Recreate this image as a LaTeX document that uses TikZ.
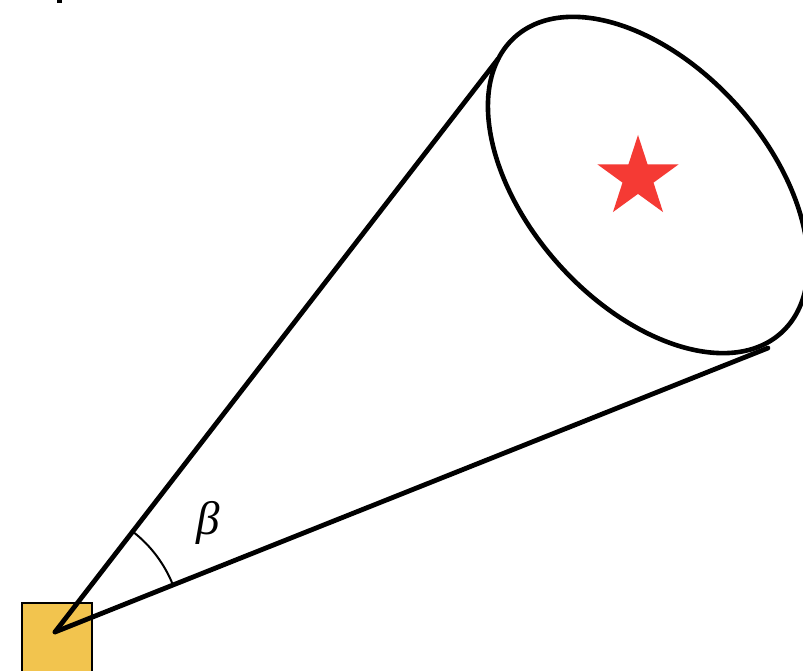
\documentclass[tikz,border=0pt]{standalone}
\usepackage{fontspec}
\newfontfamily\betafont{Liberation Serif}
\usetikzlibrary{calc}
\definecolor{camyellow}{RGB}{242,196,78}
\definecolor{starred}{RGB}{245,58,52}
\tikzset{
  conel/.style={line width=4.8pt, line cap=round, draw=black},
  rimline/.style={line width=4.6pt, draw=black},
  anglearc/.style={line width=2pt, draw=black},
  cambox/.style={draw=black, line width=2pt, fill=camyellow},
  starfill/.style={fill=starred},
}
\begin{document}
\begin{tikzpicture}[x=1pt, y=-1pt]
  \clip (0,0) rectangle (803,671);
  \fill[white] (0,0) rectangle (803,671);
  % tiny cropped mark at top
  \fill[black] (57,0) rectangle (62,3);
  % camera box
  \coordinate (boxtl) at (22,603);
  \coordinate (boxbr) at (92,700);
  \draw[cambox] (boxtl) rectangle (boxbr);
  % apex and tangent points
  \coordinate (apex) at (55,632);
  \coordinate (t1) at (498,59);
  \coordinate (t2) at (768,348);
  \coordinate (c) at (648,185);
  % ellipse
  \draw[rimline, rotate around={-48:(c)}] (c) ellipse [x radius=199, y radius=119.5];
  % cone lines
  \draw[conel] (apex) -- (t1);
  \draw[conel] (apex) -- (t2);
  % angle arc
  \draw[anglearc] (apex) ++(-21.6:127) arc[start angle=-21.6, end angle=-52.2, radius=127];
  \node (beta) at (208,523) {\fontsize{47}{54}\selectfont\betafont\itshape β};
  % star
  \begin{scope}[shift={(638,177.6)}]
    \fill[starfill] (-90:42.6) -- (-54:16.3) -- (-18:42.6) -- (18:16.3) -- (54:42.6) -- (90:16.3) -- (126:42.6) -- (162:16.3) -- (198:42.6) -- (234:16.3) -- cycle;
  \end{scope}
\end{tikzpicture}
\end{document}
